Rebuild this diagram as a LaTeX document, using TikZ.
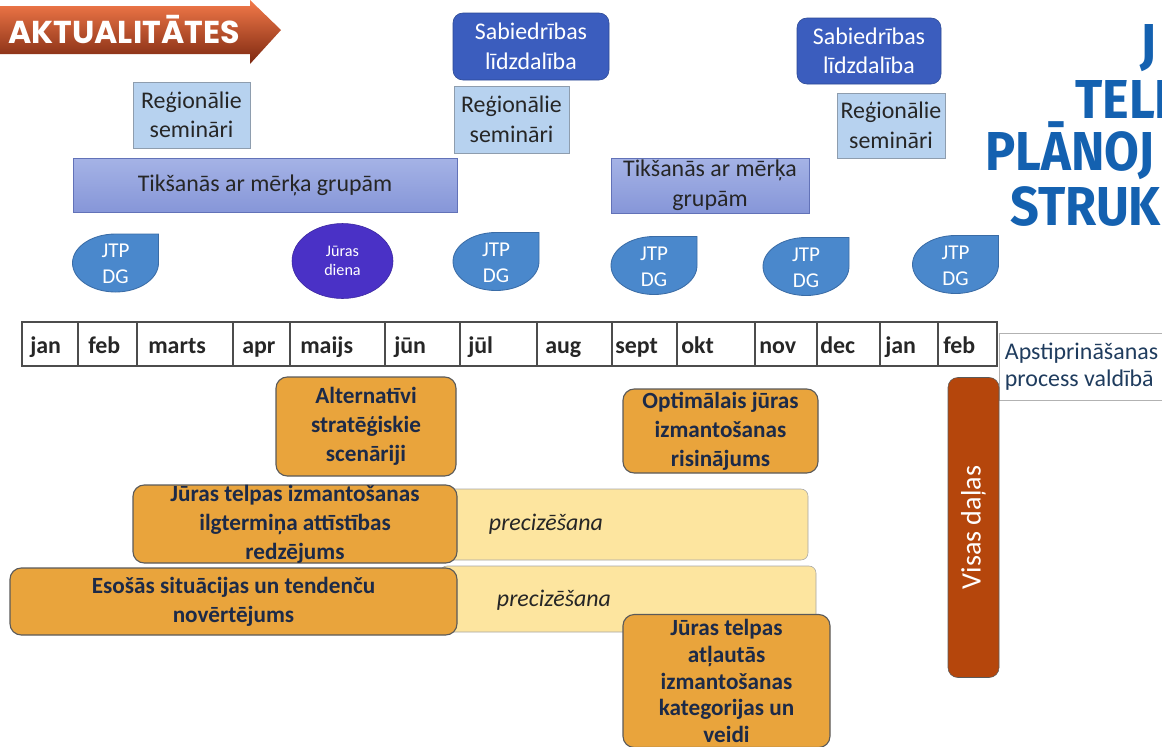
\documentclass[tikz,border=0pt]{standalone}
\usepackage{fontspec}
\setmainfont{Carlito}
\newfontfamily\headfont{Poppins}
\newfontfamily\titlefont{Fira Sans}[FakeStretch=0.92]
\usetikzlibrary{shapes.geometric}

\definecolor{semfill}{HTML}{B7D2EF}
\definecolor{semline}{HTML}{8E9DAE}
\definecolor{sabfill}{HTML}{3B5DBE}
\definecolor{sabline}{HTML}{2B4894}
\definecolor{tiktop}{HTML}{A5B3E6}
\definecolor{tikbot}{HTML}{8696D8}
\definecolor{tikline}{HTML}{6272B8}
\definecolor{jtpfill}{HTML}{4A88CC}
\definecolor{jtpline}{HTML}{3A6CA6}
\definecolor{dienafill}{HTML}{4A31C6}
\definecolor{orfill}{HTML}{E9A43C}
\definecolor{orline}{HTML}{5A5A5A}
\definecolor{ortext}{HTML}{1C2A48}
\definecolor{yelfill}{HTML}{FDE59F}
\definecolor{visasfill}{HTML}{B5460C}
\definecolor{titleblue}{HTML}{1461B0}
\definecolor{bannertop}{HTML}{F47A4A}
\definecolor{bannermid}{HTML}{E2481C}
\definecolor{bannerbot}{HTML}{7C2810}
\definecolor{apstext}{HTML}{1F3C5E}

\tikzset{
  wh/.style 2 args={minimum width=#1*0.025cm, minimum height=#2*0.025cm},
  base/.style={inner sep=0pt, align=center, font=\fontsize{17}{21}\selectfont},
  seminar/.style={base, draw=semline, fill=semfill, text=black!85},
  sabiedr/.style={base, draw=sabline, fill=sabfill, text=white, rounded corners=7pt},
  tiksme/.style={base, draw=tikline, top color=tiktop, bottom color=tikbot, text=black!85},
  jtp/.style={draw=jtpline, fill=jtpfill, line width=0.6pt},
  jtptext/.style={align=center, inner sep=0pt, text=white, font=\fontsize{15}{18.5}\selectfont},
  month/.style={anchor=base west, inner sep=0pt, font=\fontsize{17}{20}\selectfont\bfseries, text=black!85},
  result/.style={base, draw=orline, fill=orfill, text=ortext, rounded corners=8pt, line width=0.8pt,
    font=\fontsize{16.5}{20.5}\selectfont\bfseries},
  refine/.style={draw=black!35, fill=yelfill, rounded corners=5pt, inner sep=0pt},
  refinetext/.style={inner sep=0pt, font=\fontsize{17}{20}\selectfont\itshape, text=black!85},
  title/.style={anchor=base west, inner sep=0pt, text=titleblue, font=\titlefont\bfseries\fontsize{39}{42}\selectfont},
}

% drop shaped JTP DG marker, sharp corner top right
\newcommand\jtpdrop[3]{%
  \draw[jtp] ({#2+43},{#3-29}) -- ({#2},{#3-29})
    .. controls ({#2-23.7},{#3-29}) and ({#2-43},{#3-16}) .. ({#2-43},{#3})
    .. controls ({#2-43},{#3+16}) and ({#2-23.7},{#3+29}) .. ({#2},{#3+29})
    .. controls ({#2+23.7},{#3+29}) and ({#2+43},{#3+16}) .. ({#2+43},{#3}) -- cycle;
  \node[jtptext] (#1) at (#2,{#3+1}) {JTP\\DG};}

\begin{document}
\begin{tikzpicture}[x=0.025cm,y=-0.025cm]
  \useasboundingbox (0,0) rectangle (1162,746);
  \clip (0,0) rectangle (1162,746);

  % banner
  \shade[top color=bannertop, middle color=bannermid, bottom color=bannerbot]
    (0,6) -- (250,6) -- (250,0) -- (281,30) -- (250,64) -- (250,54) -- (0,54) -- cycle;
  \node[inner sep=0pt, text=white, font=\headfont\bfseries\fontsize{22.5}{24}\selectfont] (banner) at (124,29) {AKTUALITĀTES};

  % title (cut at the edge)
  \node[title] (t1) at (1140,62) {J};
  \node[title] (t2) at (1075,118) {TELP};
  \node[title] (t3) at (985,170) {PLĀNOJ};
  \node[title] (t4) at (1010,225) {STRUK};

  % upper row
  \node[sabiedr, wh={156}{67}] (sab1) at (531,46.5) {Sabiedrības\\līdzdalība};
  \node[sabiedr, wh={144}{66}] (sab2) at (869,51) {Sabiedrības\\līdzdalība};
  \node[seminar, wh={117}{66}] (sem1) at (191.5,115) {Reģionālie\\semināri};
  \node[seminar, wh={115}{67}] (sem2) at (511.5,119.5) {Reģionālie\\semināri};
  \node[seminar, wh={108}{65}] (sem3) at (891,125.5) {Reģionālie\\semināri};
  \node[tiksme, wh={384}{54}] (tik1) at (265,185) {Tikšanās ar mērķa grupām};
  \node[tiksme, wh={198}{55}] (tik2) at (710,185.5) {Tikšanās ar mērķa\\grupām};

  \jtpdrop{drop1}{115.5}{263}
  \jtpdrop{drop2}{496}{261.5}
  \jtpdrop{drop3}{654}{265.5}
  \jtpdrop{drop4}{806}{266.5}
  \jtpdrop{drop5}{955.5}{264.5}
  \node[ellipse, draw=dienafill!80!black, fill=dienafill, wh={101}{75}, inner sep=0pt, align=center,
    text=white, font=\fontsize{11.5}{13.5}\selectfont] (diena) at (342.5,261) {Jūras\\diena};

  % months
  \draw[line width=0.9pt, black!70] (22,322) rectangle (997,366);
  \foreach \x in {78,137,233,290,385,460,537,612,677,755,817,880,938}
    \draw[line width=0.9pt, black!70] (\x,322) -- (\x,366);
  \foreach \tx/\m [count=\i] in {30/jan,88/feb,148/marts,242/apr,300/maijs,394/jūn,468/jūl,545/aug,
      615/sept,681/okt,759/nov,820/dec,885/jan,943/feb}
    \node[month] (m\i) at (\tx,353) {\m};
  \node[draw=black!30, fill=white, anchor=north west, minimum height=67*0.025cm, inner xsep=4pt,
    align=left, text=apstext, font=\fontsize{17}{19.5}\selectfont] (apst) at (999,333)
    {Apstiprināšanas\\process valdībā\hspace{3em}};

  % lower part
  \node[refine, wh={368}{71}] (bar1) at (624,524.5) {};
  \node[refine, wh={376}{66}] (bar2) at (628,599) {};
  \node[refinetext] (prec1) at (546,524) {precizēšana};
  \node[refinetext] (prec2) at (554,600) {precizēšana};
  \node[result, wh={180}{99}] (alt) at (366,426.5) {Alternatīvi\\stratēģiskie\\scenāriji};
  \node[result, wh={195}{84}] (opt) at (720.5,431) {Optimālais jūras\\izmantošanas\\risinājums};
  \node[result, wh={324}{78}] (vision) at (295,524) {Jūras telpas izmantošanas\\ilgtermiņa attīstības\\redzējums};
  \node[result, wh={447}{67}] (current) at (233.5,601.5) {Esošās situācijas un tendenču\\novērtējums};
  \node[result, wh={207}{133}, font=\fontsize{16.5}{19}\selectfont\bfseries] (categ) at (726.5,681)
    {Jūras telpas\\atļautās\\izmantošanas\\kategorijas un\\veidi};
  \node[draw=orline, fill=visasfill, rounded corners=7pt, rotate=90, wh={300}{51}, inner sep=0pt,
    text=white, font=\fontsize{20}{22}\selectfont] (visas) at (973.5,527.5) {Visas daļas};
\end{tikzpicture}
\end{document}
